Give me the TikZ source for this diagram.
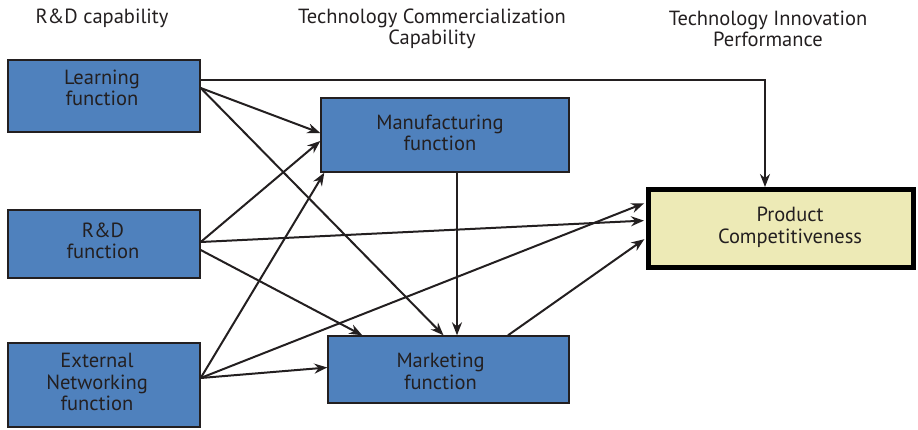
\documentclass[tikz,border=0pt]{standalone}
\usepackage{fontspec}
\setmainfont{PT Sans}
\usetikzlibrary{arrows.meta,positioning}
\definecolor{boxblue}{HTML}{4F81BD}
\definecolor{boxyellow}{HTML}{EDEAB6}
\definecolor{ink}{HTML}{231F20}

\begin{document}
\begin{tikzpicture}[x=1pt, y=-1pt,
        every node/.style={text=ink, font=\fontsize{20.5}{21.5}\selectfont, align=center},
        bluebox/.style={draw=ink, line width=1.4pt, fill=boxblue, inner sep=0pt},
        goalbox/.style={draw=black, line width=5pt, fill=boxyellow, inner sep=0pt},
        arr/.style={draw=ink, line width=2pt, -{Stealth[length=13pt, width=10pt]}}]
        \useasboundingbox (0, 0) rectangle (918, 429);

        % column headings
        \node (headrd) at (102, 18) {R\&D capability};
        \node (headtc) at (432, 29) {Technology Commercialization\\Capability};
        \node (headti) at (768, 29) {Technology Innovation\\Performance};

        % boxes (text placed with a centre label, as it sits off centre)
        \node[bluebox, minimum width=192, minimum height=72,
                label={[xshift=-2pt, yshift=8pt]center:Learning\\function}] (learn) at (104, 96) {};
        \node[bluebox, minimum width=192, minimum height=68,
                label={[xshift=-1pt, yshift=3pt]center:R\&D\\function}] (rd) at (104, 244) {};
        \node[bluebox, minimum width=192, minimum height=84,
                label={[xshift=-7pt, yshift=3pt]center:External\\Networking\\function}] (ext) at (104, 385) {};
        \node[bluebox, minimum width=248, minimum height=74,
                label={[xshift=-5pt, yshift=2pt]center:Manufacturing\\function}] (manu) at (445, 135) {};
        \node[bluebox, minimum width=241, minimum height=67,
                label={[xshift=-8pt, yshift=-2pt]center:Marketing\\function}] (mark) at (448.5, 369.5) {};
        \node[goalbox, minimum width=265, minimum height=78,
                label={[xshift=9pt, yshift=1pt]center:Product\\Competitiveness}] (prod) at (781, 228.5) {};

        % connectors
        \draw[arr] ([yshift=16pt]learn.east) -| ([xshift=-16pt]prod.north);
        \draw[arr] ([yshift=8pt]learn.east) -- ([yshift=2pt]manu.west);
        \draw[arr] ([yshift=8pt]learn.east) -- ([xshift=-5pt]mark.north);
        \draw[arr] ([yshift=2pt]rd.east) -- ([yshift=-6pt]manu.west);
        \draw[arr, shorten >=2pt] ([yshift=2pt]rd.east) -- ([yshift=8pt]prod.west);
        \draw[arr] ([yshift=-6pt]rd.east) -- ([xshift=35pt]mark.north west);
        \draw[arr] ([yshift=7pt]ext.east) -- ([xshift=4pt]manu.south west);
        \draw[arr, shorten >=2pt] ([yshift=7pt]ext.east) -- ([yshift=26pt]prod.west);
        \draw[arr] ([yshift=7pt]ext.east) -- ([yshift=2pt]mark.west);
        \draw[arr] ([xshift=12pt]manu.south) -- ([xshift=12pt]manu.south |- mark.north);
        \draw[arr, shorten >=2pt] ([xshift=59.5pt]mark.north) -- ([yshift=-9.5pt]prod.west);
\end{tikzpicture}
\end{document}
